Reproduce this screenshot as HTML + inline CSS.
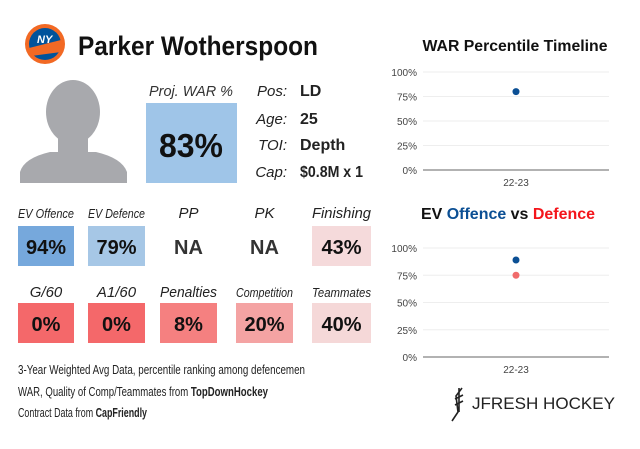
<!DOCTYPE html>
<html><head><meta charset="utf-8"><style>
html,body{margin:0;padding:0;background:#fff;}
svg{display:block;font-family:"Liberation Sans",sans-serif;}
</style></head><body>
<svg id="root" width="640" height="449" viewBox="0 0 640 449">
  <g>
    <circle cx="45" cy="44" r="20" fill="#f26924"/>
    <circle cx="45" cy="44" r="16" fill="#00539b"/>
    <path d="M29 48 L61 40 L61 52 L31 56 Z" fill="#f26924"/>
    <text x="37" y="43" font-size="11" font-weight="bold" fill="#fff" font-style="italic">NY</text>
  </g>
  <text x="78" y="55" font-size="27" font-weight="bold" fill="#111" textLength="240" lengthAdjust="spacingAndGlyphs">Parker Wotherspoon</text>

  <g fill="#a8a9ad">
    <ellipse cx="73" cy="112" rx="27" ry="32"/>
    <rect x="58" y="130" width="30" height="25"/>
    <path d="M20 183 L20 172 Q24 158 50 152 L96 152 Q122 158 127 172 L127 183 Z"/>
  </g>

  <text x="191" y="96" font-size="15" font-style="italic" fill="#333" text-anchor="middle" textLength="84" lengthAdjust="spacingAndGlyphs">Proj. WAR %</text>
  <rect x="146" y="103" width="91" height="80" fill="#9fc5e8"/>
  <text x="191" y="157" font-size="33" font-weight="bold" fill="#111" text-anchor="middle" textLength="64" lengthAdjust="spacingAndGlyphs">83%</text>

  <g font-size="15" fill="#222">
    <text x="287" y="96" font-style="italic" text-anchor="end">Pos:</text>
    <text x="300" y="96" font-weight="bold" font-size="16">LD</text>
    <text x="287" y="124" font-style="italic" text-anchor="end">Age:</text>
    <text x="300" y="124" font-weight="bold" font-size="16">25</text>
    <text x="287" y="150" font-style="italic" text-anchor="end">TOI:</text>
    <text x="300" y="150" font-weight="bold" font-size="16">Depth</text>
    <text x="287" y="177" font-style="italic" text-anchor="end">Cap:</text>
    <text x="300" y="177" font-weight="bold" font-size="16" textLength="63" lengthAdjust="spacingAndGlyphs">$0.8M x 1</text>
  </g>

  <g id="tiles"></g>

  <g font-size="13" fill="#222">
    <text x="18" y="374" textLength="287" lengthAdjust="spacingAndGlyphs">3-Year Weighted Avg Data, percentile ranking among defencemen</text>
    <text x="18" y="396" textLength="250" lengthAdjust="spacingAndGlyphs">WAR, Quality of Comp/Teammates from <tspan font-weight="bold">TopDownHockey</tspan></text>
    <text x="18" y="417" textLength="129" lengthAdjust="spacingAndGlyphs">Contract Data from <tspan font-weight="bold">CapFriendly</tspan></text>
  </g>

  <g>
    <path d="M462 388 L456 396 L458 412 L452 421 M459 388 L459 412 M455 399 L463 395 M455 405 L463 401" stroke="#222" stroke-width="1.6" fill="none"/>
    <text x="472" y="409" font-size="17" fill="#222" textLength="143" lengthAdjust="spacingAndGlyphs">JFRESH HOCKEY</text>
  </g>

  <text x="515" y="51" font-size="16" font-weight="bold" fill="#111" text-anchor="middle" textLength="185" lengthAdjust="spacingAndGlyphs">WAR Percentile Timeline</text>
  <text x="508" y="219" font-size="16" font-weight="bold" fill="#111" text-anchor="middle" textLength="174" lengthAdjust="spacingAndGlyphs">EV <tspan fill="#0b4f94">Offence</tspan> vs <tspan fill="#f4151b">Defence</tspan></text>
  <g id="chart1"></g>
  <g id="chart2"></g>
</svg>
<script>
const NS="http://www.w3.org/2000/svg";
const tileLabels=["EV Offence","EV Defence","PP","PK","Finishing","G/60","A1/60","Penalties","Competition","Teammates"];
const tileValues=["94%","79%","NA","NA","43%","0%","0%","8%","20%","40%"];
const tileColors=["#76a8dc","#a6c7e6",null,null,"#f5dadb","#f4686a","#f4686a","#f58080","#f4a3a3","#f5d8d8"];
const seasons=["22-23"];
const warValues=[80];
const offValues=[89];
const defValues=[75];
const yTicks=[0,25,50,75,100];

function mk(tag,attrs,parent){const e=document.createElementNS(NS,tag);for(const k in attrs)e.setAttribute(k,attrs[k]);parent.appendChild(e);return e;}

const tiles=document.getElementById('tiles');
const tileX=[18,88,160,236,312], tileW=[56,57,57,57,59];
tileLabels.forEach((lab,i)=>{
  const c=i%5, r=Math.floor(i/5);
  const x=tileX[c], w=tileW[c], y=r?303:226, ly=r?297:218;
  if(tileColors[i]){
    const rc=mk('rect',{x:x,y:y,width:w,height:40,fill:tileColors[i]},tiles);
    
    
  }
  const big=(lab==="PP"||lab==="PK"||lab==="Finishing"||lab==="G/60"||lab==="A1/60"||lab==="Penalties");
  const t=mk('text',{x:x+w/2,y:ly,'font-size':big?15:12.5,'font-style':'italic',fill:'#222','text-anchor':'middle'},tiles);
  if(lab.length>8){t.setAttribute('textLength',w);t.setAttribute('lengthAdjust','spacingAndGlyphs');}
  t.textContent=lab;
  
  
  const v=mk('text',{x:x+w/2,y:y+28,'font-size':20,'font-weight':'bold',fill:tileColors[i]?'#111':'#333','text-anchor':'middle'},tiles);
  v.textContent=tileValues[i];
  
  
});

function chart(g,top,bottom,series){
  const x0=423,x1=609;
  const y=v=>bottom-(v/100)*(bottom-top);
  const xs=i=>x0+(x1-x0)*(i+0.5)/seasons.length;
  yTicks.forEach(t=>{
    if(t>0){const l=mk('line',{x1:x0,x2:x1,y1:y(t),y2:y(t),stroke:'#eee','stroke-width':1},g);
      
      }
    const tx=mk('text',{x:417,y:y(t)+4,'font-size':10,fill:'#444','text-anchor':'end'},g);
    tx.textContent=t+'%';
    
    
  });
  const ax=mk('line',{x1:x0,x2:x1,y1:bottom,y2:bottom,stroke:'#666','stroke-width':1},g);
  
  
  seasons.forEach((s,i)=>{
    const tx=mk('text',{x:xs(i),y:bottom+16,'font-size':10,fill:'#444','text-anchor':'middle'},g);
    tx.textContent=s;
    
    
  });
  series.forEach(([vals,col,name])=>{
    vals.forEach((v,i)=>{
      const c=mk('circle',{cx:xs(i),cy:y(v),r:3.5,fill:col},g);
      
      
    });
  });
}
chart(document.getElementById('chart1'),72,170,[[warValues,'#0b4f94','war']]);
chart(document.getElementById('chart2'),248,357,[[defValues,'#f06b6b','defence'],[offValues,'#0b4f94','offence']]);
</script>
</body></html>
